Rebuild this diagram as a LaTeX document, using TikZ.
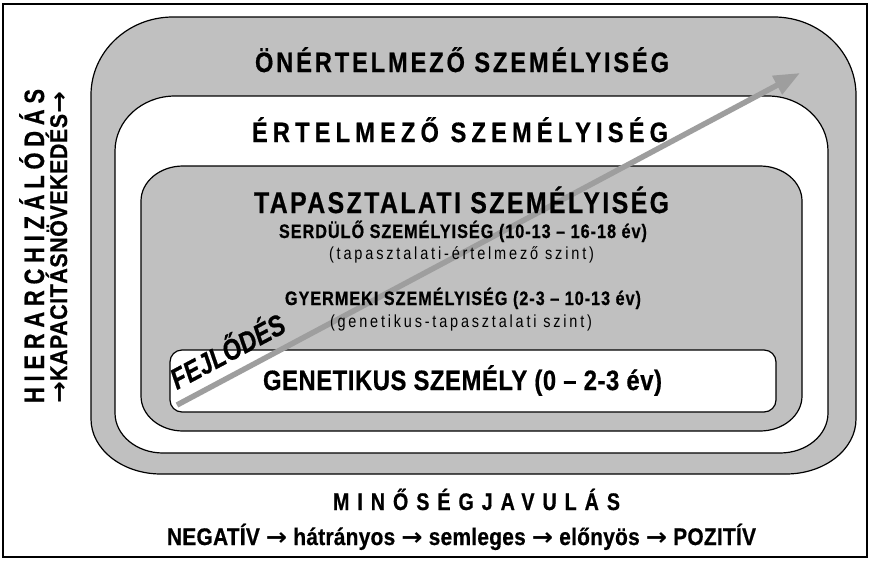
\documentclass[tikz,border=0pt]{standalone}
\usepackage{fontspec}
\usepackage{graphicx}
\setmainfont{Liberation Sans}[FakeStretch=0.82,BoldFeatures={FakeBold=0.6},BoldItalicFeatures={FakeBold=0.6}]
\newfontfamily\arrowfont{DejaVu Sans}
\usetikzlibrary{arrows.meta}
\definecolor{shapegray}{RGB}{192,192,192}
\definecolor{arrowgray}{RGB}{158,158,158}
\newcommand\rrect[9]{%
 \path[#1] (#2+#6,#3) -- (#4-#6,#3)
   arc[start angle=270,end angle=360,x radius=#6,y radius=#7] -- (#4,#5-#9)
   arc[start angle=0,end angle=90,x radius=#8,y radius=#9] -- (#2+#8,#5)
   arc[start angle=90,end angle=180,x radius=#8,y radius=#9] -- (#2,#3+#7)
   arc[start angle=180,end angle=270,x radius=#6,y radius=#7] -- cycle;}
\newcommand\fitt[4]{\resizebox{#1pt}{\height}{\fontsize{#2}{#2}\selectfont\addfontfeature{LetterSpace=#3}#4}}
\newcommand\arr{{\arrowfont\bfseries →}}
\begin{document}
\begin{tikzpicture}[x=1pt,y=-1pt,
  lab/.style={inner sep=0pt,outer sep=0pt,anchor=base west,font=\bfseries},
  labr/.style={inner sep=0pt,outer sep=0pt,anchor=base west},
  grayshape/.style={draw=black,line width=1.2pt,fill=shapegray},
  whiteshape/.style={draw=black,line width=1.2pt,fill=white},
  devarrow/.style={draw=arrowgray,line width=5.5pt,-{Triangle[length=26pt,width=20pt]}}]
\useasboundingbox (0,0) rectangle (870,560);
\draw[line width=1.2pt] (3,4) rectangle (867,557);
% nested shapes
\rrect{grayshape}{91}{17}{856}{474}{82}{78}{70}{55}
\rrect{whiteshape}{115}{96}{828}{453}{60}{55}{48}{40}
\rrect{grayshape}{141}{166}{802}{431}{42}{35}{42}{35}
\rrect{whiteshape}{170}{350}{776}{412}{12}{12}{12}{12}
% development arrow
\coordinate (fs) at (177,405);
\coordinate (fe) at (800,73);
\draw[devarrow] (fs) -- (fe);
% texts
\node[lab] (onert) at (255,72) {\fitt{414}{28}{10}{ÖNÉRTELMEZŐ SZEMÉLYISÉG}};
\node[lab] (ert) at (252,142) {\fitt{416}{28}{18}{ÉRTELMEZŐ SZEMÉLYISÉG}};
\node[lab] (tap) at (254,213) {\fitt{415}{30}{8}{TAPASZTALATI SZEMÉLYISÉG}};
\node[lab] (serd) at (279,238) {\fitt{368}{19.5}{5}{SERDÜLŐ SZEMÉLYISÉG (10-13 – 16-18 év)}};
\node[labr] (serdsub) at (329,259) {\fitt{265}{17.5}{16}{(tapasztalati-értelmező szint)}};
\node[lab] (gyer) at (285,305) {\fitt{356}{19.5}{5}{GYERMEKI SZEMÉLYISÉG (2-3 – 10-13 év)}};
\node[labr] (gyersub) at (330,327) {\fitt{262}{17.5}{16}{(genetikus-tapasztalati szint)}};
\node[lab] (gen) at (263,390) {\fitt{399}{28}{2}{GENETIKUS SZEMÉLY (0 – 2-3 év)}};
\node[lab,rotate=28,font=\bfseries\itshape] (fejl) at (177,390) {\fontsize{29}{29}\selectfont FEJLŐDÉS};
\node[lab] (minos) at (333,510) {\fitt{287}{24}{33}{MINŐSÉGJAVULÁS}};
\node[lab] (scale) at (167,545) {\fitt{589}{24}{1}{NEGATÍV \arr{} hátrányos \arr{} semleges \arr{} előnyös \arr{} POZITÍV}};
\node[lab,rotate=90] (hier) at (44,403) {\fitt{314}{28}{22}{HIERARCHIZÁLÓDÁS}};
\node[lab,rotate=90] (kap) at (67,403) {\fitt{311}{24}{2}{\arr KAPACITÁSNÖVEKEDÉS\arr}};
\end{tikzpicture}
\end{document}
